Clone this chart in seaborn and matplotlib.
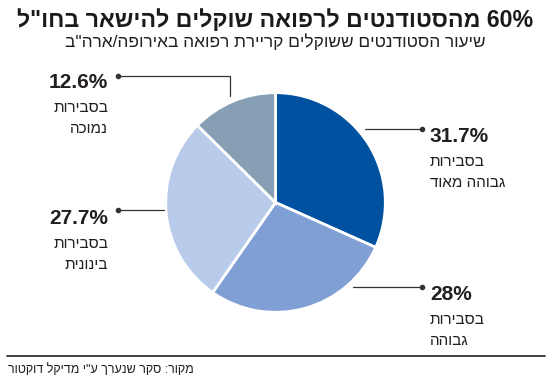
import matplotlib
matplotlib.use("Agg")
import matplotlib.pyplot as plt
import seaborn as sns
from matplotlib.lines import Line2D

# ---------------- data ----------------
categories = ["בסבירות גבוהה מאוד", "בסבירות גבוהה", "בסבירות בינונית", "בסבירות נמוכה"]
values = [31.7, 28.0, 27.7, 12.6]
value_labels = ["31.7%", "28%", "27.7%", "12.6%"]
label_lines = [["בסבירות", "גבוהה מאוד"], ["בסבירות", "גבוהה"], ["בסבירות", "בינונית"], ["בסבירות", "נמוכה"]]
title_text = "60% מהסטודנטים לרפואה שוקלים להישאר בחו\"ל"
subtitle_text = "שיעור הסטודנטים ששוקלים קריירת רפואה באירופה/ארה\"ב"
source_text = "מקור: סקר שנערך ע\"י מדיקל דוקטור"

sns.set_theme(style="white")
palette = sns.color_palette(["#00519f", "#7f9fd5", "#b9cbea", "#879fb5"])

HEB = ["Liberation Sans", "DejaVu Sans"]
NUM = ["Liberation Sans", "DejaVu Sans"]
plt.rcParams["font.family"] = HEB

W, H = 550, 383
fig = plt.figure(figsize=(W / 100, H / 100), dpi=100)
fig.patch.set_facecolor("white")


def px(x, y):
    return (x / W, 1 - y / H)


def vis(s):
    """Visual (left-to-right) order for right-to-left Hebrew text with an optional leading number."""
    parts = s.split(" ", 1)
    if any(c.isdigit() for c in parts[0]) and len(parts) > 1:
        return parts[1][::-1] + " " + parts[0]
    return s[::-1]


TXT = "#231f20"

# ---------------- pie ----------------
cx, cy, r = 275.5, 202.5, 112
ax = fig.add_axes([(cx - r) / W, 1 - (cy + r) / H, 2 * r / W, 2 * r / H])
ax.pie(values, colors=palette, startangle=90, counterclock=False, radius=1,
       wedgeprops=dict(edgecolor="white", linewidth=2))
ax.set_xlim(-1.02, 1.02)
ax.set_ylim(-1.02, 1.02)
ax.set_aspect("equal")
ax.axis("off")

# ---------------- leaders ----------------
leaders = [
    [(365, 129), (422, 129)],
    [(353, 287), (422, 287)],
    [(118, 210), (164, 210)],
    [(118, 76), (230, 76), (230, 96)],
]
dots = [(422, 129), (422, 287), (118, 210), (118, 76)]
for pts in leaders:
    xs = [px(*p)[0] for p in pts]
    ys = [px(*p)[1] for p in pts]
    fig.add_artist(Line2D(xs, ys, color="#333333", lw=0.9, transform=fig.transFigure))
for d in dots:
    x, y = px(*d)
    fig.add_artist(Line2D([x], [y], marker="o", ms=3, color="#333333", transform=fig.transFigure))

# ---------------- labels ----------------
anchors = [(430, 142, "left"), (430, 300, "left"), (108, 224, "right"), (108, 88, "right")]
for (x, yb, ha), vl, lines in zip(anchors, value_labels, label_lines):
    fig.text(*px(x, yb), vl, ha=ha, va="baseline", fontsize=15, fontweight="bold",
             family=NUM, color=TXT)
    for i, ln in enumerate(lines):
        fig.text(*px(x, yb + 24 + 21 * i), vis(ln), ha=ha, va="baseline", fontsize=11,
                 color=TXT)

# ---------------- title ----------------
t = fig.text(*px(275, 27), vis(title_text), ha="center", va="baseline", fontsize=20,
             fontweight="bold", color="#1a1a1a")
st = fig.text(*px(275, 47), vis(subtitle_text), ha="center", va="baseline", fontsize=14,
              color=TXT)
src = fig.text(*px(8, 373), vis(source_text), ha="left", va="baseline", fontsize=11,
               color=TXT)

fig.add_artist(Line2D([7 / W, 545 / W], [1 - 356 / H] * 2, color="#333333", lw=1.3,
                      transform=fig.transFigure))

# fit text widths to the layout
fig.canvas.draw()
rend = fig.canvas.get_renderer()
for obj, target in [(t, 516), (st, 422), (src, 187)]:
    w = obj.get_window_extent(rend).width
    obj.set_fontsize(obj.get_fontsize() * target / w)

fig.savefig("out.png", dpi=100, facecolor="white")
